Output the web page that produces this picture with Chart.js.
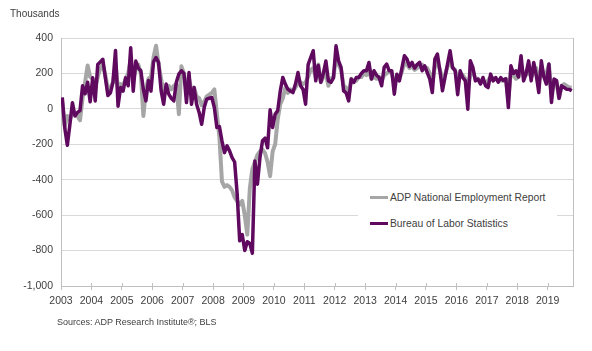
<!DOCTYPE html>
<html>
<head>
<meta charset="utf-8">
<script src="https://cdn.jsdelivr.net/npm/chart.js@4/dist/chart.umd.min.js"></script>
<style>
    body { margin: 0; background: #fff; font-family: "Liberation Sans", Arial, sans-serif; }
    #wrap { position: relative; width: 592px; height: 351px; }
    #unit { position: absolute; left: 10px; top: 8px; font-size: 10px; color: #404040; }
    #source { position: absolute; left: 57px; top: 317px; font-size: 9px; color: #404040; }
    #legend { position: absolute; left: 358px; top: 184px; width: 199px; height: 56px; background: #fff; }
    .item { position: absolute; left: 12px; height: 14px; display: flex; align-items: center; font-size: 10.3px; color: #404040; white-space: nowrap; }
    .swatch { width: 18px; height: 3px; margin-right: 2px; }
</style>
</head>
<body>
<div id="wrap">
    <canvas id="chart" width="592" height="351"></canvas>
    <div id="unit">Thousands</div>
    <div id="legend"></div>
    <div id="source">Sources: ADP Research Institute®; BLS</div>
</div>
<script>
// monthly job change, thousands, Jan 2003 - Oct 2019
const yearLabels = ['2003', '2004', '2005', '2006', '2007', '2008', '2009', '2010', '2011',
    '2012', '2013', '2014', '2015', '2016', '2017', '2018', '2019'];
const yTickValues = [400, 200, 0, -200, -400, -600, -800, -1000];

const adpValues = [
    40, -100, -40, -60, -20, -30, -40, -65, 60, 150, 245, 180,        // 2003
    170, 120, 180, 230, 250, 190, 110, 120, 150, 250, 110, 140,       // 2004
    130, 170, 200, 280, 170, 220, 250, 200, -40, 110, 170, 180,       // 2005
    290, 356, 250, 170, 90, 120, 130, 110, 130, 140, -30, 240,        // 2006
    200, 120, 170, 100, 120, 70, 60, 20, 40, 70, 80, 90,              // 2007
    110, -30, -160, -410, -440, -430, -440, -460, -500, -520, -540, -520, // 2008
    -600, -710, -450, -340, -300, -260, -240, -230, -250, -300, -380, -240, // 2009
    -200, -60, 26, 60, 120, 90, 110, 100, 120, 150, 150, 140,         // 2010
    150, 180, 220, 230, 180, 250, 150, 180, 200, 130, 170, 180,       // 2011
    290, 250, 220, 130, 120, 80, 170, 150, 160, 180, 180, 200,        // 2012
    190, 210, 170, 180, 170, 180, 160, 190, 200, 210, 200, 150,       // 2013
    170, 170, 210, 260, 250, 230, 240, 220, 230, 240, 250, 230,       // 2014
    230, 200, 150, 240, 260, 220, 170, 190, 240, 270, 230, 220,       // 2015
    160, 200, 190, 170, 100, 200, 210, 170, 170, 150, 160, 140,       // 2016
    160, 180, 170, 170, 160, 160, 160, 170, 60, 210, 190, 170,        // 2017
    180, 250, 190, 190, 220, 180, 200, 230, 150, 230, 190, 200,       // 2018
    250, 80, 150, 150, 60, 130, 140, 130, 120, 120                    // 2019
];

const blsValues = [
    65, -110, -205, -90, 35, -40, -20, -10, 130, 85, 150, 40,         // 2003
    175, 45, 250, 265, 280, 175, 75, 90, 150, 330, 15, 120,           // 2004
    100, 175, 130, 345, 100, 270, 230, 215, 110, 45, 160, 100,        // 2005
    265, 290, 262, 102, 26, 140, 83, 60, 45, 150, 196, 215,           // 2006
    200, 36, 205, 26, 120, 26, -20, -87, 7, 55, 60, 64,               // 2007
    7, -105, -100, -181, -247, -209, -237, -275, -300, -480, -745, -710, // 2008
    -800, -750, -760, -815, -295, -425, -275, -180, -165, -220, -5, -105, // 2009
    -30, -10, 100, 177, 140, 111, 100, 92, 140, 205, 130, 110,        // 2010
    26, 250, 290, 328, 158, 245, 150, 200, 270, 158, 150, 175,        // 2011
    356, 271, 234, 102, 90, 45, 168, 150, 177, 177, 200, 215,         // 2012
    215, 262, 168, 215, 190, 177, 130, 234, 253, 215, 215, 83,        // 2013
    196, 158, 230, 300, 281, 240, 262, 230, 250, 262, 215, 243,       // 2014
    205, 168, 92, 281, 309, 215, 102, 177, 253, 328, 234, 215,        // 2015
    80, 215, 177, 160, -2, 271, 234, 158, 168, 140, 177, 130,         // 2016
    120, 196, 158, 177, 150, 177, 160, 170, 7, 243, 200, 215,         // 2017
    180, 300, 158, 200, 271, 158, 262, 190, 92, 271, 180, 140,        // 2018
    253, 36, 168, 160, 60, 130, 120, 111, 110, 102                    // 2019
];

const seriesNames = ['ADP National Employment Report', 'Bureau of Labor Statistics'];
const seriesColors = ['#a6a6a6', '#5f0a5f'];

const toPoints = values => values.map((v, i) => ({ x: i, y: v }));

// tick marks crossing the x axis + right border of plot
const framePlugin = {
    id: 'frame',
    afterDraw(chart) {
        const { ctx, chartArea } = chart;
        const xScale = chart.scales.x;
        ctx.save();
        ctx.strokeStyle = '#bfbfbf';
        ctx.lineWidth = 1;
        ctx.beginPath();
        ctx.moveTo(chartArea.right + 0.5, chartArea.top);
        ctx.lineTo(chartArea.right + 0.5, chartArea.bottom);
        xScale.ticks.forEach(t => {
            const px = Math.round(xScale.getPixelForValue(t.value)) + 0.5;
            ctx.moveTo(px, chartArea.bottom - 3);
            ctx.lineTo(px, chartArea.bottom);
        });
        ctx.stroke();
        ctx.restore();
    }
};

const chart = new Chart(document.getElementById('chart').getContext('2d'), {
    type: 'line',
    data: {
        datasets: [
            {
                label: seriesNames[0],
                data: toPoints(adpValues),
                borderColor: seriesColors[0],
                borderWidth: 4,
                order: 2
            },
            {
                label: seriesNames[1],
                data: toPoints(blsValues),
                borderColor: seriesColors[1],
                borderWidth: 3.5,
                order: 1
            }
        ]
    },
    options: {
        responsive: false,
        animation: false,
        devicePixelRatio: 1,
        elements: {
            point: { radius: 0 },
            line: { tension: 0, borderJoinStyle: 'round' }
        },
        layout: { padding: { top: 38, right: 19, left: 0, bottom: 0 } },
        plugins: {
            legend: { display: false },
            tooltip: { enabled: false }
        },
        scales: {
            x: {
                type: 'linear',
                min: -0.5,
                max: blsValues.length - 0.5,
                afterBuildTicks: scale => {
                    scale.ticks = yearLabels.map((y, i) => ({ value: -0.5 + i * 12 }));
                },
                afterFit: scale => { scale.height = 65; },
                grid: { drawOnChartArea: false, tickLength: 4, color: '#bfbfbf' },
                border: { color: '#bfbfbf' },
                ticks: {
                    autoSkip: false,
                    maxRotation: 0,
                    padding: 5,
                    color: '#404040',
                    font: { family: 'Liberation Sans', size: 10.5 },
                    callback: (value, index) => yearLabels[index]
                }
            },
            y: {
                min: -1000,
                max: 400,
                afterBuildTicks: scale => {
                    scale.ticks = yTickValues.map(v => ({ value: v }));
                },
                afterFit: scale => { scale.width = 61; },
                grid: { color: '#d9d9d9', drawTicks: false },
                border: { color: '#bfbfbf' },
                ticks: {
                    padding: 8,
                    color: '#404040',
                    font: { family: 'Liberation Sans', size: 10.5 },
                    callback: value => value.toLocaleString('en-US')
                }
            }
        }
    },
    plugins: [framePlugin]
});

// legend inside the plot
const legendBox = document.getElementById('legend');
seriesNames.forEach((name, i) => {
    const item = document.createElement('div');
    item.className = 'item';
    item.style.top = (6 + i * 26) + 'px';
    item.innerHTML = `<span class="swatch" style="background:${seriesColors[i]}"></span>${name}`;
    legendBox.appendChild(item);
});
</script>
</body>
</html>
